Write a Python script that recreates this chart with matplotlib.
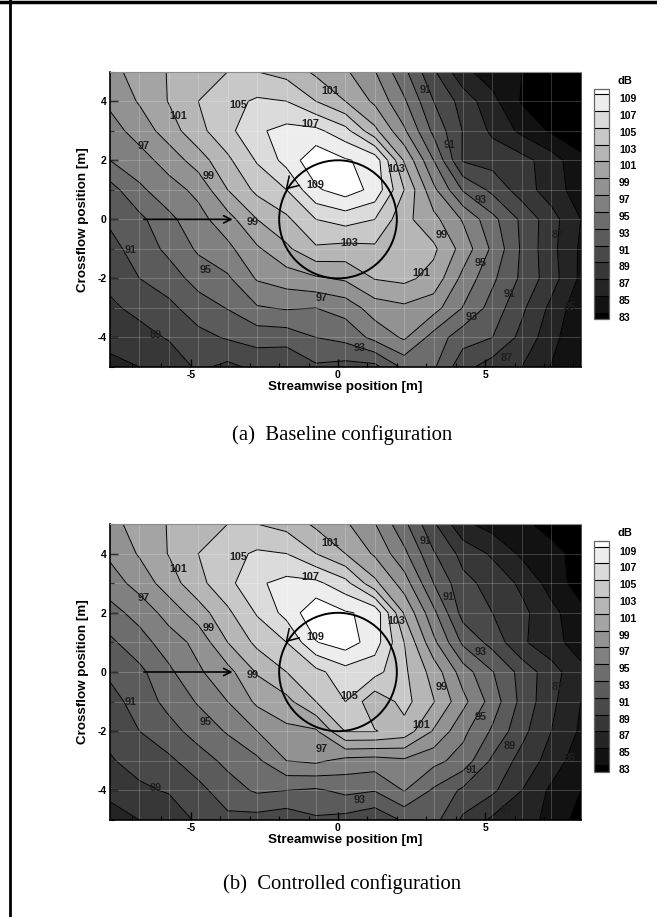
import matplotlib
matplotlib.use("Agg")
import matplotlib.pyplot as plt
from matplotlib.lines import Line2D
from matplotlib.patches import Circle
import numpy as np

W, H = 657, 917

# measurement grid
x_pos = [-7.75, -6.75, -5.75, -4.75, -3.75, -2.75, -1.75, -0.75, 0.25,
         1.25, 2.25, 3.25, 4.25, 5.25, 6.25, 7.25, 8.25]
y_pos = [5, 4, 3, 2, 1, 0, -1, -2, -3, -4, -5]
levels = [83, 85, 87, 89, 91, 93, 95, 97, 99, 101, 103, 105, 107, 109]

# baseline dB, one list per streamwise station, y = 5 down to -5
b0 = [98.2, 97.4, 96.2, 95, 92.2, 91.3, 90.4, 89.6, 88.6, 87.6, 86.5]
b1 = [100, 99.2, 97.8, 96.2, 94.6, 92.5, 91.8, 91, 89.6, 88.2, 87]
b2 = [101.1, 101.1, 100, 97.8, 96.2, 94.5, 93.5, 92, 90.5, 89.2, 87.5]
b3 = [102.1, 103, 102.4, 100, 97.5, 96.3, 95.3, 93.8, 92, 90.4, 89.4]
b4 = [103, 104.3, 104.4, 102.6, 101, 98.2, 96.5, 94.7, 93.1, 91.2, 88.5]
b5 = [103, 105.3, 106.7, 105.2, 103.5, 101, 98.7, 97.2, 94.8, 91.8, 89.5]
b6 = [102.3, 105, 107.6, 107.7, 105, 102.6, 100.6, 98, 95.2, 91.9, 89.1]
b7 = [100.6, 103, 107.5, 110.5, 108.7, 105, 102.7, 98.7, 95, 93, 90.7]
b8 = [99.3, 101, 105.7, 109.2, 110, 105.8, 102.3, 99.3, 95.8, 93.6, 90.3]
b9 = [97.1, 98.6, 101.5, 108.3, 108.4, 105, 102.6, 101.1, 98, 95.6, 90.4]
b10 = [93.5, 95.3, 97.3, 100.8, 103, 101.6, 102, 101.5, 98.6, 97.3, 93.5]
b11 = [89.3, 91, 92.5, 95, 97.5, 99.6, 101.4, 100.3, 97.8, 94.2, 93.3]
b12 = [85.5, 88.2, 88.9, 88.8, 92.8, 96.8, 98.2, 96.4, 94.9, 91.8, 89.7]
b13 = [84, 85.6, 86.6, 88.2, 90.5, 93.6, 94.6, 93.4, 92.2, 91, 88]
b14 = [83, 82.8, 84.5, 87.7, 88, 90.6, 90.7, 90.6, 89.4, 88.4, 87]
b15 = [82, 82, 82.7, 86, 86, 87.8, 87.6, 87.9, 86.5, 85.8, 84.9]
b16 = [81.5, 81.5, 81.7, 83.5, 84, 85, 84.7, 84.6, 83.6, 83, 83]

# controlled dB
c0 = [98.2, 97.4, 96, 94.3, 92.6, 91.4, 90.2, 89.6, 88.8, 87.5, 86.2]
c1 = [100, 99.2, 97.8, 95.7, 94.2, 92.5, 91.9, 91, 89.8, 88.6, 87]
c2 = [101.1, 101.1, 100, 97.8, 96, 94.6, 93.6, 92.3, 90.6, 89.2, 87.5]
c3 = [102.1, 103, 102.4, 100, 97.6, 96.7, 95.2, 93.8, 92.1, 90.4, 89.4]
c4 = [103, 104.3, 104.4, 102.6, 101, 98.3, 97, 95.2, 93.5, 92.1, 90.5]
c5 = [103, 105.3, 106.7, 105.2, 103.5, 101.2, 99.4, 97, 94.6, 93.3, 90.2]
c6 = [102.3, 105, 107.6, 107.7, 105, 103, 100.4, 98.5, 97, 93, 89.7]
c7 = [100.6, 103, 107.5, 110.5, 108.9, 104.4, 103, 98.7, 97.4, 92.7, 90.7]
c8 = [99.3, 101, 105.7, 109.2, 110, 106.2, 105, 103.1, 96.3, 93.5, 90.3]
c9 = [97.1, 98.7, 101.5, 108.5, 108, 105.7, 101.5, 103.1, 96.1, 93.1, 89.5]
c10 = [93.5, 95.5, 98, 100.8, 103, 103.4, 103.7, 102.2, 96.6, 95.1, 91.3]
c11 = [89.3, 91.2, 93, 95.5, 97.5, 100.2, 101.1, 98.8, 95.6, 92.7, 91.7]
c12 = [85.4, 88.3, 89.6, 90.2, 92.6, 96, 97.6, 95.5, 94.2, 90.6, 88.6]
c13 = [84.2, 86.7, 88.3, 89, 90.3, 93.1, 94.1, 92.7, 90.6, 89.4, 86.6]
c14 = [83.4, 84.6, 86.6, 87.5, 87.3, 90.3, 90.4, 89.6, 88.3, 87, 85.6]
c15 = [82.3, 83.6, 84.2, 85.6, 85.8, 87.8, 87.5, 87, 86.2, 84.6, 84.6]
c16 = [81.5, 82.3, 82, 83.6, 84, 85.6, 85, 84.7, 83.7, 83, 82]

baseline = [b0, b1, b2, b3, b4, b5, b6, b7, b8, b9, b10, b11, b12, b13, b14, b15, b16]
controlled = [c0, c1, c2, c3, c4, c5, c6, c7, c8, c9, c10, c11, c12, c13, c14, c15, c16]

# contour labels: text and page position in pixels
labels_a = [("105", 238, 105), ("101", 330, 91), ("91", 426, 90), ("101", 178, 116),
            ("107", 310, 124), ("97", 144, 146), ("91", 450, 145), ("103", 396, 169),
            ("99", 209, 176), ("109", 315, 185), ("93", 481, 200), ("99", 253, 222),
            ("99", 442, 235), ("103", 349, 243), ("91", 131, 250), ("87", 558, 235),
            ("95", 206, 270), ("95", 481, 263), ("101", 421, 273), ("97", 322, 298),
            ("91", 510, 294), ("93", 472, 317), ("85", 570, 307), ("89", 156, 335),
            ("93", 360, 348), ("87", 507, 358)]
labels_b = [("101", 330, 543), ("91", 426, 541), ("105", 238, 557), ("101", 178, 569),
            ("107", 310, 577), ("97", 144, 598), ("91", 449, 597), ("103", 396, 621),
            ("99", 209, 628), ("109", 315, 637), ("93", 481, 652), ("99", 253, 675),
            ("99", 442, 687), ("105", 349, 696), ("91", 131, 702), ("87", 558, 687),
            ("95", 206, 722), ("95", 481, 717), ("101", 421, 725), ("89", 510, 746),
            ("97", 322, 749), ("91", 472, 770), ("85", 570, 758), ("89", 156, 788),
            ("93", 360, 800), ("87", 507, 810)]

plt.rcParams['font.family'] = ['Liberation Sans', 'DejaVu Sans']
plt.rcParams['axes.unicode_minus'] = False
fig = plt.figure(figsize=(W / 100, H / 100), dpi=100)

X, Y = np.meshgrid(x_pos, y_pos[::-1])
n_band = len(levels) + 1
band_colors = [str(round(i / (n_band - 1), 3)) for i in range(n_band)]
fill_levels = [80] + levels + [112]


def draw_panel(top, bottom, values, labels, caption, caption_y):
    ax = fig.add_axes([110 / W, 1 - bottom / H, 470.7 / W, (bottom - top) / H])
    Z = np.array(values).T[::-1]
    cf = ax.contourf(X, Y, Z, levels=fill_levels, colors=band_colors)
    ax.contour(X, Y, Z, levels=levels, colors='k', linewidths=0.7)
    ax.set_xlim(-7.75, 8.25)
    ax.set_ylim(-5, 5)

    # measurement grid shows through as faint lines
    for gx in x_pos[1:-1]:
        ax.axvline(gx, color='w', alpha=0.2, lw=0.7)
    for gy in y_pos[1:-1]:
        ax.axhline(gy, color='w', alpha=0.2, lw=0.7)

    # rotor disc and flow arrow
    ax.add_patch(Circle((0, 0), 2, fill=False, ec='k', lw=1.4, zorder=5))
    ax.plot([-1.66, -1.75, -1.32], [1.46, 1.04, 1.15], color='k', lw=1.1, zorder=5)
    ax.annotate('', xy=(-3.58, 0), xytext=(-6.6, 0), zorder=5,
                arrowprops=dict(arrowstyle='->', color='k', lw=1.2, mutation_scale=13,
                                shrinkA=0, shrinkB=0))

    ax.set_xticks([-5, 0, 5])
    ax.set_xticks(range(-7, 9), minor=True)
    ax.set_yticks([-4, -2, 0, 2, 4])
    ax.set_yticks(range(-5, 6), minor=True)
    ax.tick_params(which='major', direction='in', length=6, width=1.0, labelsize=7.5, pad=2.5)
    ax.tick_params(which='minor', direction='in', length=3, width=0.8)
    for lab in ax.get_xticklabels() + ax.get_yticklabels():
        lab.set_fontweight('bold')
    ax.xaxis.set_ticks_position('bottom')
    ax.yaxis.set_ticks_position('left')
    ax.set_xlabel('Streamwise position [m]', fontsize=9.6, fontweight='bold', labelpad=0.5)
    ax.set_ylabel('Crossflow position [m]', fontsize=9.6, fontweight='bold', labelpad=6)
    ax.spines['left'].set_linewidth(1.2)
    ax.spines['bottom'].set_linewidth(1.2)
    ax.spines['top'].set_color('0.55')
    ax.spines['right'].set_linewidth(0.5)

    for txt, px, py in labels:
        fig.text(px / W, 1 - py / H, txt, fontsize=7.8, fontweight='bold', color='0.12',
                 ha='center', va='center', zorder=10)

    # colour bar
    cax = fig.add_axes([594.3 / W, 1 - (top + 247.6) / H, 15 / W, 230.4 / H])
    cb = fig.colorbar(cf, cax=cax, ticks=levels, drawedges=True)
    cax.set_ylim(81.83, 109.96)
    cb.dividers.set_color('k')
    cb.dividers.set_linewidth(0.8)
    cb.outline.set_edgecolor('0.4')
    cb.outline.set_linewidth(0.9)
    cax.tick_params(length=0, labelsize=7.5, pad=7)
    for lab in cax.get_yticklabels():
        lab.set_fontweight('bold')
        lab.set_verticalalignment('top')
    fig.text(617 / W, 1 - (top + 9.5) / H, 'dB', fontsize=8, fontweight='bold',
             ha='left', va='center')

    fig.text(342 / W, 1 - caption_y / H, caption, fontsize=14.9,
             family=['Liberation Serif'], ha='center', va='center')


draw_panel(71.7, 367, baseline, labels_a, '(a)  Baseline configuration', 435)
draw_panel(524, 820, controlled, labels_b, '(b)  Controlled configuration', 884)

# page frame
fig.add_artist(Line2D([9.5 / W, 9.5 / W], [0, 1], color='k', lw=2))
fig.add_artist(Line2D([0, 1], [1 - 2 / H, 1 - 2 / H], color='k', lw=2.5))

fig.savefig('out.png', dpi=100)
